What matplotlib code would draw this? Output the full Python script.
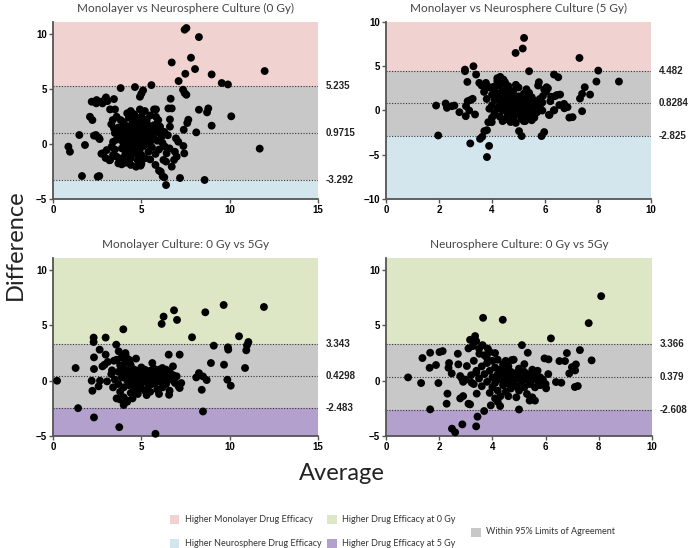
import matplotlib
matplotlib.use("Agg")
import matplotlib.pyplot as plt
import numpy as np
from matplotlib.patches import Rectangle

# ---- data (average, difference) ----
mono_vs_ns_0gy = [
    (7.45, 10.4), (7.55, 10.55), (8.26, 9.73), (6.72, 7.42), (7.81, 7.85), (8.04, 6.82),
    (7.49, 6.39), (8.98, 6.33), (11.98, 6.64), (7.11, 5.73), (9.55, 5.55), (9.9, 5.42),
    (5.57, 5.36), (4.64, 5.18), (3.83, 5.09), (7.36, 4.94), (7.45, 4.64), (7.55, 4.48),
    (5.1, 4.88), (5.0, 4.58), (4.92, 4.3), (2.19, 3.85), (2.47, 4.0), (2.75, 3.85),
    (3.0, 4.24), (3.08, 3.9), (3.45, 4.09), (3.23, 3.15), (3.51, 3.15), (2.09, 2.48),
    (2.23, 2.18), (2.43, 0.82), (2.57, 0.6), (1.49, 0.82), (1.81, -0.09), (0.87, -0.24),
    (0.96, -0.7), (1.64, -2.91), (2.53, -2.97), (2.62, -2.91), (2.81, -0.85), (3.04, -0.55),
    (3.23, -1.45), (3.32, -0.24), (3.6, -1.15), (3.7, -1.76), (3.89, -1.85), (4.08, -1.6),
    (4.36, -1.15), (4.7, -2.06), (4.96, -1.97), (4.83, -1.21), (3.38, 2.18), (3.6, 2.48),
    (3.83, 2.18), (3.98, 1.88), (3.45, 1.42), (3.7, 0.82), (3.89, 1.27), (4.25, 1.58),
    (4.51, 2.73), (4.7, 2.33), (4.92, 3.15), (5.3, 2.24), (5.49, 1.58), (5.72, 3.15),
    (5.83, 3.15), (5.96, 2.18), (5.83, 2.48), (6.06, 1.58), (6.15, 0.67), (6.34, -0.24),
    (6.43, -0.85), (6.25, -1.45), (6.1, -2.52), (6.3, -3.03), (6.4, -3.73), (6.53, 3.24),
    (6.72, 3.24), (6.62, 2.24), (6.62, 1.58), (6.96, 0.52), (7.09, 0.21), (6.9, -0.7),
    (6.85, -1.45), (7.0, -1.15), (6.72, -2.06), (7.38, -0.18), (7.43, -0.85), (6.66, 4.12),
    (8.26, 3.12), (8.79, 3.24), (8.72, 2.88), (10.09, 2.52), (8.98, 1.67), (7.66, 2.21),
    (7.6, 1.91), (8.11, 1.06), (7.4, 1.3), (11.7, -0.42), (8.58, -3.27), (7.19, -3.09),
    (6.21, -2.94), (6.0, -2.42), (2.32, 0.76), (2.64, 0.45), (2.74, -0.88), (2.98, -1.27),
    (3.2, -1.48), (2.45, 3.7), (2.8, 3.7), (2.95, 4.05),
    (3.7, 1.5), (3.8, 0.9), (3.9, 0.3), (3.9, -0.4), (4.0, 2.0), (4.0, 1.1), (4.1, 0.5),
    (4.1, -0.9), (4.2, 1.6), (4.2, 0.0), (4.3, 2.4), (4.3, 0.9), (4.3, -0.5), (4.4, 1.3),
    (4.4, 0.4), (4.4, -1.3), (4.5, 1.9), (4.5, 0.7), (4.5, -0.2), (4.6, 1.1), (4.6, 2.7),
    (4.6, 0.2), (4.6, -0.8), (4.7, 1.5), (4.7, 0.6), (4.7, -0.3), (4.8, 2.1), (4.8, 1.0),
    (4.8, 0.1), (4.8, -1.5), (4.9, 1.7), (4.9, 0.8), (4.9, -0.6), (5.0, 1.3), (5.0, 0.4),
    (5.0, 2.5), (5.0, -1.0), (5.1, 1.9), (5.1, 0.9), (5.1, -0.2), (5.2, 1.4), (5.2, 0.5),
    (5.2, -1.3), (5.3, 1.0), (5.3, 2.0), (5.3, 0.0), (5.4, 1.6), (5.4, 0.6), (5.4, -0.7),
    (5.5, 1.2), (5.5, 2.6), (5.5, 0.2), (5.6, 0.9), (5.6, -0.3), (5.7, 1.7), (5.7, 0.5),
    (5.8, 1.2), (5.8, -0.9), (5.9, 0.3), (6.0, 1.0), (6.0, -0.5), (4.2, 2.8), (4.0, -0.1),
    (3.6, 0.4), (3.5, -0.5), (3.5, 1.0), (4.4, 3.0), (5.2, 3.0), (5.9, 1.9), (6.2, 0.1),
    (6.3, 1.1), (6.5, 0.8), (6.6, -0.4), (6.4, -1.6), (5.8, -1.9), (5.5, -1.4),
    (5.0, -1.8), (4.4, -1.9), (4.1, -1.7), (3.9, -1.3), (3.4, 0.2), (3.3, 1.8), (3.4, -1.0),
    (4.55, 1.35), (4.75, 0.95), (4.65, 0.45), (4.85, 0.3), (4.95, 1.1), (5.05, 0.7),
    (4.45, 0.1), (4.35, 0.65), (5.15, 1.55), (5.25, 0.25), (4.25, 1.25), (5.35, 1.3),
]

mono_vs_ns_5gy = [
    (5.21, 8.2), (5.16, 7.0), (4.89, 6.5), (7.3, 5.94), (3.3, 5.0), (2.98, 4.62),
    (2.98, 4.44), (5.4, 4.44), (8.01, 4.51), (7.94, 3.27), (8.79, 3.27), (6.34, 4.06),
    (6.5, 3.76), (3.4, 4.06), (3.07, 3.23), (7.5, 2.63), (7.4, 1.88), (7.7, 1.8),
    (7.32, 1.35), (7.4, -0.08), (7.04, -0.75), (6.85, 0.38), (6.72, 0.75), (6.57, 1.8),
    (6.38, 1.62), (6.35, 0.04), (6.15, -0.49), (6.2, 1.05), (5.97, 2.37), (6.06, 2.63),
    (5.77, 3.2), (5.74, 2.82), (5.97, -2.44), (5.87, -2.89), (5.12, -2.89), (5.02, -2.33),
    (5.25, -1.2), (1.89, 0.56), (1.97, -2.82), (2.25, 0.79), (2.3, 0.3), (2.48, 0.49),
    (2.58, 0.56), (2.77, -0.19), (3.01, -0.64), (3.14, 0.0), (3.08, 1.05), (3.18, 1.17),
    (3.27, 1.32), (3.36, -0.45), (3.02, 0.49), (3.18, -3.72), (3.55, -3.2), (3.63, -2.97),
    (3.71, -2.33), (3.81, -2.22), (3.86, -1.32), (3.99, -1.32), (4.08, -0.53), (3.89, -4.0),
    (3.81, -5.26), (3.52, 3.12), (3.61, 2.82), (3.77, 3.12), (3.86, 2.67), (4.05, 2.67),
    (4.2, 3.65), (4.31, 3.8), (4.43, 3.5), (4.49, 3.2), (4.62, 2.75), (6.11, 2.5),
    (6.04, 2.12), (5.92, 1.63), (6.23, 1.56), (6.45, 1.75), (6.54, 0.62), (6.73, 0.25),
    (6.92, -0.8), (6.33, 0.0), (6.17, -0.5),
    (4.0, 1.8), (4.0, 0.6), (4.1, 2.4), (4.1, 1.2), (4.1, -0.3), (4.2, 1.9), (4.2, 0.2),
    (4.3, 2.8), (4.3, 1.4), (4.3, 0.7), (4.3, -0.7), (4.4, 2.2), (4.4, 1.0), (4.4, 0.0),
    (4.5, 1.7), (4.5, 0.5), (4.5, -1.0), (4.6, 2.5), (4.6, 1.2), (4.6, 0.2), (4.6, -0.5),
    (4.7, 1.8), (4.7, 0.8), (4.7, -0.1), (4.8, 1.4), (4.8, 0.4), (4.8, 2.2), (4.8, -0.8),
    (4.9, 1.0), (4.9, 0.0), (4.9, -1.4), (5.0, 1.6), (5.0, 0.6), (5.0, -0.4), (5.0, 2.6),
    (5.1, 1.2), (5.1, 0.2), (5.1, -0.9), (5.2, 0.8), (5.2, 1.9), (5.2, -0.2), (5.3, 0.4),
    (5.3, 1.4), (5.3, -0.6), (5.4, 1.0), (5.4, 0.1), (5.4, 2.0), (5.5, 0.6), (5.5, -0.4),
    (5.5, 1.5), (5.6, 0.2), (5.6, 1.1), (5.6, -0.8), (5.7, 0.7), (5.7, -0.2), (5.8, 1.3),
    (5.8, 0.4), (5.9, 0.0), (5.9, 0.9), (4.2, 3.3), (4.5, 3.0), (4.9, 2.9), (5.3, 2.4),
    (4.4, -1.2), (4.7, -1.3), (5.2, -1.2), (5.5, -1.1), (4.0, -0.8), (3.9, 0.2), (3.8, 1.3),
    (3.7, 2.1), (3.9, 2.6), (4.85, 0.9), (5.05, 0.3), (5.15, 1.0), (4.95, 1.3),
    (5.25, 0.55), (4.75, 0.5), (5.45, 0.8), (4.55, 0.9),
]

mono_0_vs_5gy = [
    (0.23, 0.0), (1.28, 1.15), (1.42, -2.48), (2.32, -3.32), (3.75, -4.2), (5.8, -4.8),
    (8.49, -2.78), (8.42, -0.82), (3.98, 4.65), (6.85, 6.37), (6.26, 5.8), (6.15, 5.14),
    (7.02, 5.5), (8.62, 6.19), (9.66, 6.85), (11.94, 6.67), (10.53, 4.02), (7.87, 3.93),
    (2.98, 3.9), (2.3, 3.9), (2.3, 3.5), (9.1, 3.17), (9.9, 3.02), (9.92, 2.81),
    (11.06, 3.5), (10.98, 3.2), (10.94, 2.75), (9.68, 1.45), (8.94, 1.6), (10.87, 1.15),
    (9.87, 0.09), (10.06, -0.45), (8.7, 0.06), (8.49, 0.39), (8.26, 0.69), (8.11, 0.3),
    (7.17, 2.36), (6.55, 2.36), (5.62, 1.6), (6.19, 1.15), (6.79, 1.3), (6.57, -1.27),
    (7.17, -0.66), (7.26, -0.21), (2.32, 2.11), (2.64, 2.81), (2.98, 2.36), (2.32, 1.06),
    (2.19, 0.0), (2.23, -0.91), (2.58, -0.51), (2.66, 0.0), (2.92, 1.45), (3.06, -0.06),
    (3.34, 0.94), (3.45, 1.81), (3.58, 3.26), (3.72, 2.66), (3.92, 2.2), (4.11, 2.3),
    (4.34, 1.6), (3.8, -1.7), (4.0, -2.2), (4.2, -1.9), (2.8, 1.3), (3.1, 1.7),
    (3.6, 1.9), (3.7, 0.8), (3.7, -0.3), (3.8, 1.4), (3.8, -1.0), (3.9, 2.1), (3.9, 0.3),
    (4.0, 1.1), (4.0, -0.6), (4.0, -1.5), (4.1, 0.6), (4.1, 1.7), (4.2, 0.0), (4.2, -1.8),
    (4.3, 0.9), (4.3, -0.4), (4.4, 1.4), (4.4, 0.2), (4.4, -1.1), (4.5, 0.6), (4.5, -0.3),
    (4.6, 1.0), (4.6, 0.0), (4.6, -0.8), (4.7, 0.4), (4.7, 2.0), (4.7, -0.5), (4.8, 0.9),
    (4.8, 0.1), (4.8, -1.2), (4.9, 0.5), (4.9, -0.2), (5.0, 1.2), (5.0, 0.2), (5.0, -0.7),
    (5.1, 0.6), (5.1, -0.1), (5.2, 0.3), (5.2, 1.0), (5.2, -0.9), (5.3, 0.0), (5.3, 0.7),
    (5.4, 0.4), (5.4, -0.4), (5.5, 0.9), (5.5, 0.0), (5.5, -1.0), (5.6, 0.5), (5.6, -0.3),
    (5.7, 0.2), (5.7, 1.1), (5.8, -0.2), (5.8, 0.6), (5.9, 0.1), (5.9, -0.8), (6.0, 0.4),
    (6.0, 1.0), (6.1, -0.1), (6.2, 0.6), (6.2, -0.6), (6.3, 0.2), (6.4, 1.0), (6.4, -0.3),
    (6.5, 0.4), (6.6, -0.9), (6.6, 0.8), (6.7, 0.1), (6.8, 0.5), (6.9, -0.2), (7.0, 0.4),
    (7.1, -0.5), (4.1, 2.5), (4.3, 1.9), (3.5, 0.1), (3.4, -0.6), (3.3, 0.6), (3.6, -1.6),
    (4.5, -1.6), (5.3, -1.3), (6.0, -1.2), (4.85, 0.55), (5.05, 0.05), (5.25, 0.55),
    (5.45, 0.2), (4.65, 0.25), (5.65, -0.05), (5.95, 0.55), (6.25, 0.0),
]

ns_0_vs_5gy = [
    (8.09, 7.65), (7.62, 5.21), (3.65, 5.69), (4.39, 5.51), (6.2, 3.83), (7.73, 1.84),
    (7.29, 2.77), (6.8, 2.5), (7.14, 1.48), (7.11, 0.93), (6.99, 1.23), (6.89, 0.66),
    (7.1, -0.57), (7.21, -0.48), (6.59, -0.18), (6.39, -0.12), (6.52, 1.78), (6.73, 1.78),
    (5.96, 2.02), (6.11, 1.93), (6.02, -0.69), (5.33, 2.53), (5.11, 3.22), (4.73, 1.87),
    (0.83, 0.3), (1.32, -0.21), (1.37, 2.05), (1.66, 2.53), (1.64, 1.17), (1.66, -2.59),
    (1.88, 1.42), (1.97, -0.21), (2.01, 2.59), (2.13, 2.68), (2.31, -1.17), (2.28, -2.08),
    (2.37, 1.6), (2.35, 1.17), (2.47, 0.66), (2.48, -4.34), (2.6, -4.67), (2.87, -3.95),
    (2.7, 2.44), (2.72, 1.48), (2.79, 0.42), (2.85, 0.21), (2.79, -1.6), (2.9, -1.39),
    (3.04, 1.33), (3.1, 2.92), (3.16, 3.7), (3.35, 4.04), (3.39, 3.58), (3.26, 3.13),
    (3.39, -4.13), (3.44, -3.25), (3.69, -2.74), (3.39, 0.72), (3.16, -2.14), (3.1, -2.08),
    (3.22, -0.18), (3.41, -1.17), (3.51, 2.44), (3.63, 3.22), (3.79, 2.08), (3.83, 2.89),
    (3.94, -2.23), (4.29, -2.29), (5.0, -2.6),
    (3.6, 1.3), (3.6, -0.5), (3.7, 0.6), (3.7, 2.3), (3.8, -0.1), (3.8, 1.6), (3.9, 0.9),
    (3.9, -1.1), (4.0, 0.3), (4.0, 1.8), (4.0, -0.6), (4.1, 1.2), (4.1, -0.2), (4.1, -1.6),
    (4.2, 0.6), (4.2, 1.9), (4.2, -0.9), (4.3, 0.1), (4.3, 1.0), (4.3, -1.4), (4.4, 0.5),
    (4.4, -0.4), (4.4, 1.5), (4.5, 0.0), (4.5, 0.9), (4.5, -1.0), (4.6, 0.4), (4.6, -0.3),
    (4.6, 1.3), (4.7, 0.1), (4.7, 0.8), (4.7, -0.7), (4.8, 0.4), (4.8, -0.1), (4.8, 1.9),
    (4.9, 0.7), (4.9, -0.5), (4.9, -1.5), (5.0, 0.2), (5.0, 1.1), (5.0, -0.9), (5.1, 0.5),
    (5.1, -0.2), (5.2, 0.8), (5.2, -0.6), (5.2, 1.5), (5.3, 0.1), (5.3, -1.2), (5.4, 0.6),
    (5.4, -0.3), (5.5, 1.0), (5.5, 0.2), (5.5, -1.5), (5.6, -0.6), (5.6, 0.5), (5.7, 0.0),
    (5.7, 0.9), (5.8, -0.4), (5.8, 0.3), (5.9, 0.1), (6.0, -0.3), (6.1, 0.6), (3.5, 0.2),
    (3.4, 0.9), (3.3, -0.3), (3.2, 0.5), (3.0, 0.1), (2.9, -0.1), (3.3, 1.8), (3.5, 2.9),
    (3.9, 2.6), (4.1, 2.5), (4.5, 1.8), (4.2, -1.9), (4.6, -1.4), (5.4, -1.8), (5.6, -1.8),
    (4.45, 0.25), (4.65, -0.05), (4.85, 0.15), (5.05, 0.45), (4.25, 0.35), (5.25, 0.25),
    (5.45, -0.05), (4.75, 0.55),
]

titles = [
    "Monolayer vs Neurosphere Culture (0 Gy)",
    "Monolayer vs Neurosphere Culture (5 Gy)",
    "Monolayer Culture: 0 Gy vs 5Gy",
    "Neurosphere Culture: 0 Gy vs 5Gy",
]
# upper limit, bias, lower limit
limits = [(5.235, 0.9715, -3.292), (4.482, 0.8284, -2.825),
          (3.343, 0.4298, -2.483), (3.366, 0.379, -2.608)]
limit_labels = [("5.235", "0.9715", "-3.292"), ("4.482", "0.8284", "-2.825"),
                ("3.343", "0.4298", "-2.483"), ("3.366", "0.379", "-2.608")]
xlims = [(0, 15), (0, 10), (0, 15), (0, 10)]
ylims = [(-5, 11.1), (-10, 10), (-5, 11.1), (-5, 11.1)]
xticks = [[0, 5, 10, 15], [0, 2, 4, 6, 8, 10], [0, 5, 10, 15], [0, 2, 4, 6, 8, 10]]
yticks = [[-5, 0, 5, 10], [-10, -5, 0, 5, 10], [-5, 0, 5, 10], [-5, 0, 5, 10]]

legend_labels = ["Higher Monolayer Drug Efficacy", "Higher Neurosphere Drug Efficacy",
                 "Higher Drug Efficacy at 0 Gy", "Higher Drug Efficacy at 5 Gy",
                 "Within 95% Limits of Agreement"]

PINK = "#f0d3d0"
BLUE = "#d3e6ee"
GREEN = "#dde7c6"
PURPLE = "#b3a0cd"
GREY = "#c8c8c8"
band_colors = [(PINK, BLUE), (PINK, BLUE), (GREEN, PURPLE), (GREEN, PURPLE)]

W, H = 689, 548
fig = plt.figure(figsize=(W / 100, H / 100), dpi=100)

# axes boxes in pixel coords: left, top, right, bottom
boxes = [(53, 22, 318, 199), (386, 22, 651, 199), (53, 258, 318, 436), (386, 258, 652, 436)]
title_y = [8, 8, 245, 245]

datasets = [mono_vs_ns_0gy, mono_vs_ns_5gy, mono_0_vs_5gy, ns_0_vs_5gy]
for i in range(4):
    l, t, r, b = boxes[i]
    ax = fig.add_axes([l / W, 1 - b / H, (r - l) / W, (b - t) / H])
    up, mid, lo = limits[i]
    x0, x1 = xlims[i]
    y0, y1 = ylims[i]
    top_c, bot_c = band_colors[i]
    ax.axhspan(up, y1, color=top_c, lw=0, zorder=0)
    ax.axhspan(lo, up, color=GREY, lw=0, zorder=0)
    ax.axhspan(y0, lo, color=bot_c, lw=0, zorder=0)
    for v in (up, mid, lo):
        ax.axhline(v, color="#333333", lw=0.8, ls=(0, (1, 1.5)), zorder=1)
    pts = np.array(datasets[i])
    ax.scatter(pts[:, 0], pts[:, 1], s=32, color="black", edgecolors="none", zorder=3,
               clip_on=False)
    ax.set_xlim(x0, x1)
    ax.set_ylim(y0, y1)
    ax.set_xticks(xticks[i])
    ax.set_yticks(yticks[i])
    for s in ("top", "right"):
        ax.spines[s].set_visible(False)
    for s in ("left", "bottom"):
        ax.spines[s].set_color("#555555")
        ax.spines[s].set_linewidth(1.3)
    ax.tick_params(length=3, width=1, color="#555555", pad=1.5, labelsize=7)
    for lab in ax.get_xticklabels() + ax.get_yticklabels():
        lab.set_fontweight("bold")
        lab.set_fontfamily("Liberation Sans")
    for v, txt in zip((up, mid, lo), limit_labels[i]):
        ax.text(1.03, v, txt, transform=ax.get_yaxis_transform(), va="center", ha="left",
                fontsize=7, fontweight="bold", family="Liberation Sans", color="#222222")
    fig.text((l + r) / 2 / W, 1 - title_y[i] / H, titles[i], ha="center", va="center",
             fontsize=8.5, family="Lato", color="#444444")

fig.text(15 / W, 1 - 245 / H, "Difference", rotation=90, ha="center", va="center",
         fontsize=17, family="Lato", color="#222222")
fig.text(342 / W, 1 - 473 / H, "Average", ha="center", va="center",
         fontsize=17, family="Lato", color="#222222")

# legend drawn by hand at the bottom
legend_items = [
    (170, 519, PINK, legend_labels[0]),
    (170, 543, BLUE, legend_labels[1]),
    (327, 519, GREEN, legend_labels[2]),
    (327, 543, PURPLE, legend_labels[3]),
    (471, 532, GREY, legend_labels[4]),
]
for x, y, c, txt in legend_items:
    fig.patches.append(Rectangle((x / W, 1 - (y + 4.5) / H), 9.5 / W, 9 / H,
                                 transform=fig.transFigure, color=c, lw=0))
    fig.text((x + 15) / W, 1 - y / H, txt, ha="left", va="center",
             fontsize=6.5, family="Lato", color="#333333")

fig.savefig("out.png", dpi=100)
